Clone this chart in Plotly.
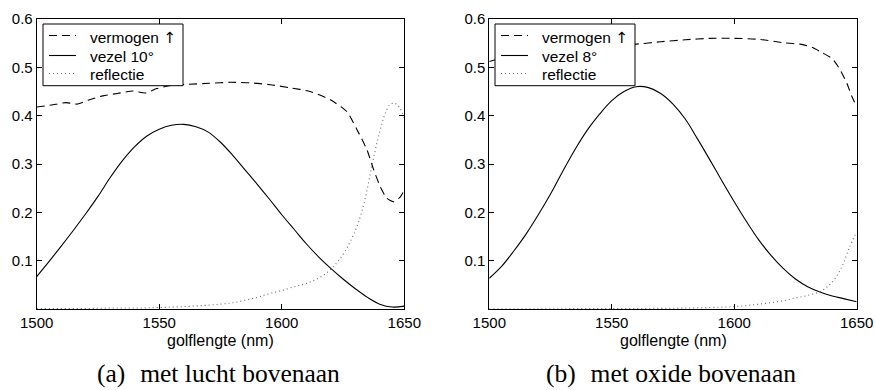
import plotly.graph_objects as go

# ---- data: (a) met lucht bovenaan ----
a_verm_x = [1500, 1506, 1512, 1516.7, 1521, 1527, 1533, 1539.2, 1544.6, 1549, 1554.1, 1562, 1570.5, 1579, 1587, 1595.3, 1603, 1611.6, 1619.8, 1626.6, 1630.7, 1634.8, 1637.5, 1640.2, 1642.9, 1645.6, 1648.4, 1650]
a_verm_y = [0.418, 0.422, 0.427, 0.424, 0.432, 0.441, 0.446, 0.451, 0.447, 0.456, 0.462, 0.465, 0.467, 0.469, 0.468, 0.464, 0.458, 0.450, 0.433, 0.408, 0.371, 0.329, 0.288, 0.253, 0.229, 0.222, 0.232, 0.246]

a_vez_x = list(range(1500, 1651, 5))
a_vez_y = [0.067, 0.098, 0.130, 0.163, 0.197, 0.233, 0.272, 0.307, 0.336, 0.358, 0.372, 0.380, 0.382, 0.377, 0.366,
           0.345, 0.318, 0.288, 0.258, 0.227, 0.195, 0.165, 0.135, 0.108, 0.084, 0.062, 0.042, 0.024, 0.010, 0.004, 0.006]

a_refl_x = [1500, 1510, 1520, 1530, 1540, 1550, 1560, 1570, 1580, 1590, 1595, 1600, 1605, 1610, 1615, 1620, 1625, 1628, 1631, 1634, 1637, 1640, 1642, 1644, 1646, 1648, 1650]
a_refl_y = [0.001, 0.001, 0.001, 0.002, 0.002, 0.003, 0.005, 0.008, 0.013, 0.024, 0.032, 0.038, 0.046, 0.053, 0.064, 0.082, 0.113, 0.140, 0.175, 0.228, 0.302, 0.367, 0.402, 0.422, 0.426, 0.417, 0.395]

# ---- data: (b) met oxide bovenaan ----
b_verm_x = [1500, 1510, 1520, 1530, 1540, 1550, 1560, 1570, 1580, 1590, 1600, 1610, 1620, 1628, 1632, 1636, 1640, 1643, 1646, 1648, 1650]
b_verm_y = [0.512, 0.526, 0.534, 0.539, 0.543, 0.545, 0.548, 0.553, 0.557, 0.560, 0.560, 0.558, 0.551, 0.547, 0.541, 0.530, 0.518, 0.497, 0.467, 0.440, 0.419]

b_vez_x = list(range(1500, 1651, 5))
b_vez_y = [0.0635, 0.088, 0.120, 0.155, 0.195, 0.238, 0.285, 0.330, 0.370, 0.403, 0.431, 0.450, 0.460, 0.458, 0.446,
           0.424, 0.393, 0.352, 0.309, 0.265, 0.222, 0.181, 0.143, 0.111, 0.084, 0.062, 0.046, 0.035, 0.027, 0.021, 0.015]

b_refl_x = [1500, 1520, 1540, 1560, 1580, 1600, 1610, 1620, 1625, 1630, 1635, 1638, 1641, 1644, 1647, 1650]
b_refl_y = [0.0005, 0.0005, 0.0008, 0.001, 0.002, 0.005, 0.010, 0.017, 0.023, 0.028, 0.036, 0.046, 0.062, 0.088, 0.127, 0.160]

x_ticks = [1500, 1550, 1600, 1650]
y_ticks = [0.1, 0.2, 0.3, 0.4, 0.5, 0.6]
x_title = "golflengte (nm)"
captions = ["(a) \u200a met lucht bovenaan", "(b) \u200a met oxide bovenaan"]
ARROW = '<span style="font-family:DejaVu Sans">\u2191</span>'
names_a = ["vermogen " + ARROW, "vezel 10\u00b0", "reflectie"]
names_b = ["vermogen " + ARROW, "vezel 8\u00b0", "reflectie"]

W, H = 875, 390
SANS = "Liberation Sans, Arial, sans-serif"
styles = [dict(color="black", width=1.1, dash="8px,5px"),
          dict(color="black", width=1.1),
          dict(color="#6a6a6a", width=1.1, dash="1px,3px")]

fig = go.Figure()

def add_set(xs, ys, names, xa, ya):
    smooth = [0.6, 1.0, 1.0]
    for (x, y), nm, st, sm in zip(zip(xs, ys), names, styles, smooth):
        fig.add_trace(go.Scatter(x=x, y=y, name=nm, mode="lines", showlegend=False,
                                 line=dict(shape="spline", smoothing=sm, **st), xaxis=xa, yaxis=ya))

add_set([a_verm_x, a_vez_x, a_refl_x], [a_verm_y, a_vez_y, a_refl_y], names_a, "x", "y")
add_set([b_verm_x, b_vez_x, b_refl_x], [b_verm_y, b_vez_y, b_refl_y], names_b, "x2", "y2")

axis_font = dict(family=SANS, size=15, color="black")
common_x = dict(range=[1500, 1650], tickvals=x_ticks, ticks="inside", ticklen=5, tickcolor="black",
                showline=True, linecolor="black", linewidth=1, mirror="ticks", showgrid=False,
                zeroline=False, tickfont=axis_font, automargin=False)
common_y = dict(range=[0, 0.6], tickvals=y_ticks, ticktext=[f"{v:.1f}" for v in y_ticks], ticks="inside", ticklen=5,
                tickcolor="black", showline=True, linecolor="black", linewidth=1, mirror="ticks",
                showgrid=False, zeroline=False, tickfont=axis_font, automargin=False)

y_dom = [1 - 309 / H, 1 - 19 / H]
xa_dom = [36.7 / W, 404.3 / W]
xb_dom = [489.3 / W, 856.7 / W]

fig.update_layout(
    width=W, height=H, margin=dict(l=0, r=0, t=0, b=0, autoexpand=False),
    paper_bgcolor="white", plot_bgcolor="white", showlegend=False,
    xaxis=dict(domain=xa_dom, anchor="y", **common_x),
    yaxis=dict(domain=y_dom, anchor="x", **common_y),
    xaxis2=dict(domain=xb_dom, anchor="y2", **common_x),
    yaxis2=dict(domain=y_dom, anchor="x2", **common_y),
)

# ---- legend boxes (key drawn in pixel layout converted to paper coords) ----
shapes, annots = [], []
def px(x):
    return x / W
def py(y):
    return 1 - y / H

row_line_y = [35.5, 55.5, 73.5]
row_text_y = [38.5, 56.5, 74.5]
for bx, names in [(43, names_a), (495, names_b)]:
    shapes.append(dict(type="rect", xref="paper", yref="paper", x0=px(bx), x1=px(bx + 140), y0=py(24), y1=py(85.7),
                       line=dict(color="black", width=1), fillcolor="white", layer="above"))
    for nm, st, ly, ty in zip(names, styles, row_line_y, row_text_y):
        shapes.append(dict(type="line", xref="paper", yref="paper", x0=px(bx + 6), x1=px(bx + 33), y0=py(ly), y1=py(ly),
                           line=dict(color=st["color"], width=st["width"], dash=st.get("dash", "solid")), layer="above"))
        annots.append(dict(x=px(bx + 44.5), y=py(ty), xref="paper", yref="paper", text=nm, showarrow=False,
                           font=dict(family=SANS, size=15.5, color="black"), xanchor="left", yanchor="middle"))

for dom in [xa_dom, xb_dom]:
    cx = (dom[0] + dom[1]) / 2
    annots.append(dict(x=cx, y=py(340), xref="paper", yref="paper", text=x_title, showarrow=False,
                       font=dict(family=SANS, size=16, color="black"), xanchor="center", yanchor="middle"))
for cx, cap in zip([218, 671], captions):
    annots.append(dict(x=px(cx), y=py(389.5), xref="paper", yref="paper", text=cap, showarrow=False,
                       font=dict(family="Liberation Serif, Times New Roman, serif", size=25.5, color="black"),
                       xanchor="center", yanchor="bottom"))
fig.update_layout(shapes=shapes, annotations=annots)

fig.write_html("out.html")
